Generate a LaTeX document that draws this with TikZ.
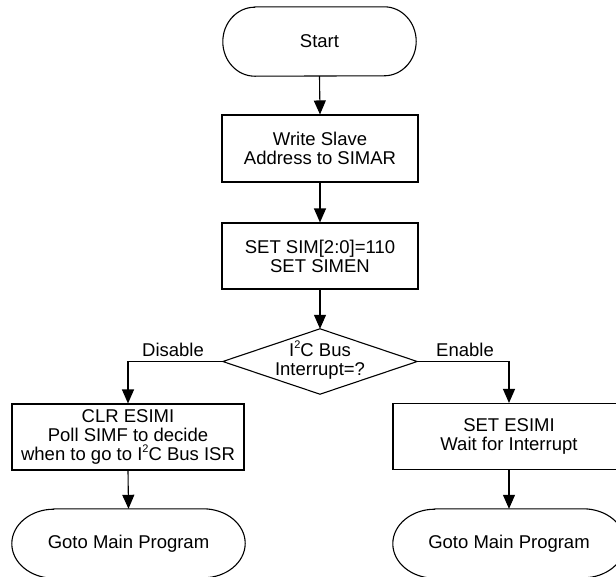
\documentclass[tikz,border=0pt]{standalone}
\usepackage{fontspec}
\setmainfont{Liberation Sans}
\usetikzlibrary{arrows.meta}
\newcommand{\suptwo}{\raisebox{0.42em}{\fontsize{11}{11}\selectfont 2}}
\begin{document}
\begin{tikzpicture}[x=1pt,y=1pt,
  ln/.style={line width=1.1pt, line join=miter},
  arr/.style={ln, -{Triangle[length=14pt,width=12pt]}},
  txt/.style={font=\fontsize{18.5}{19}\selectfont, align=center},
  boxnode/.style={txt, draw, line width=1.1pt, inner sep=0pt, minimum width=196pt, minimum height=67pt},
  wbox/.style={boxnode, minimum width=232pt, minimum height=66pt},
  termnode/.style={txt, inner sep=0pt, minimum height=69pt},
  lbl/.style={txt}
]
\useasboundingbox (0,0) rectangle (616,-576);
\clip (0,0) rectangle (616,-576);
% nodes
\node[termnode, minimum width=193pt] (st) at (319.5,-41.5) {Start};
\node[boxnode] (b1) at (320,-148.5) {Write Slave\\Address to SIMAR};
\node[boxnode, minimum height=66pt] (b2) at (320,-256) {SET SIM[2:0]=110\\SET SIMEN};
\node[txt, inner sep=0pt, minimum width=194pt, minimum height=65pt] (d) at (320,-361.5) {};
\node[txt] (dt) at (320,-360) {I\suptwo C Bus\\Interrupt=?};
\node[wbox] (lb) at (128,-437) {CLR ESIMI\\Poll SIMF to decide\\when to go to I\suptwo C Bus ISR};
\node[wbox] (rb) at (509,-436.5) {SET ESIMI\\Wait for Interrupt};
\node[termnode, minimum width=233pt] (gl) at (128.5,-543.5) {Goto Main Program};
\node[termnode, minimum width=232pt] (gr) at (509,-543.5) {Goto Main Program};
\node[lbl] (dis) at (173,-350) {Disable};
\node[lbl] (en) at (465,-350) {Enable};
% terminal outlines
\draw[ln] ([xshift=32pt]st.north west) -- ([xshift=-32pt]st.north east)
  arc[start angle=90,end angle=-90,x radius=32pt,y radius=34.5pt]
  -- ([xshift=32pt]st.south west)
  arc[start angle=270,end angle=90,x radius=32pt,y radius=34.5pt] -- cycle;
\draw[ln] ([xshift=42pt]gl.north west) -- ([xshift=-42pt]gl.north east)
  arc[start angle=90,end angle=-90,x radius=42pt,y radius=34.5pt]
  -- ([xshift=42pt]gl.south west)
  arc[start angle=270,end angle=90,x radius=42pt,y radius=34.5pt] -- cycle;
\draw[ln] ([xshift=42pt]gr.north west) -- ([xshift=-42pt]gr.north east)
  arc[start angle=90,end angle=-90,x radius=42pt,y radius=34.5pt]
  -- ([xshift=42pt]gr.south west)
  arc[start angle=270,end angle=90,x radius=42pt,y radius=34.5pt] -- cycle;
% diamond
\draw[ln] (d.north) -- (d.east) -- (d.south) -- (d.west) -- cycle;
% connectors
\draw[arr] (st.south) -- (b1.north);
\draw[arr] (b1.south) -- (b2.north);
\draw[arr] (b2.south) -- (d.north);
\draw[arr] (d.west) -| (lb.north);
\draw[arr] (d.east) -| (rb.north);
\draw[arr] (lb.south) -- (gl.north);
\draw[arr] (rb.south) -- (gr.north);
\end{tikzpicture}
\end{document}
